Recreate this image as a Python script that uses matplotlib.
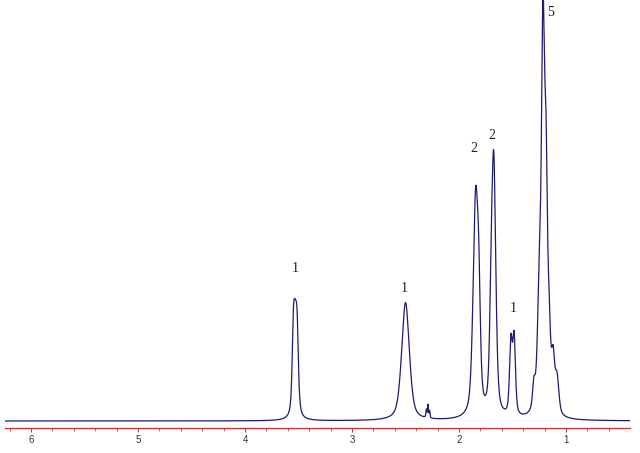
import numpy as np
import matplotlib.pyplot as plt

# --- DATA ---
# peak list: position (ppm), height (px above baseline), width (ppm, FWHM)
peak_ppm = [3.548, 3.530, 3.512,
            2.500,
            2.305, 2.290, 2.275,
            1.845, 1.815,
            1.700, 1.675,
            1.515, 1.485,
            1.300, 1.250, 1.215, 1.187, 1.160, 1.121, 1.084]
peak_height = [50, 95, 45,
               118,
               8, 13, 7,
               215, 80,
               70, 245,
               72, 76,
               25, 110, 370, 200, 75, 50, 35]
peak_width = [0.025, 0.045, 0.025,
              0.085,
              0.010, 0.010, 0.010,
              0.055, 0.035,
              0.035, 0.045,
              0.030, 0.030,
              0.030, 0.040, 0.035, 0.030, 0.035, 0.035, 0.040]

# integration labels
label_ppm = [3.53, 2.514, 1.86, 1.69, 1.495, 1.14]
label_height = [152, 133, 273, 286, 112, 409]
label_text = ['1', '1', '2', '2', '1', '5']

ppm_tick_labels = ['1', '2', '3', '4', '5', '6']


def pvoigt(x, x0, h, w, eta=0.5):
    lor = 1.0 / (1.0 + ((x - x0) / (w / 2)) ** 2)
    gau = np.exp(-4 * np.log(2) * ((x - x0) / w) ** 2)
    return h * (eta * lor + (1 - eta) * gau)


ppm = np.linspace(6.243, 0.402, 6000)
intensity = np.zeros_like(ppm)
for p, h, w in zip(peak_ppm, peak_height, peak_width):
    intensity += pvoigt(ppm, p, h, w)

fig = plt.figure(figsize=(6.4, 4.53), dpi=100)
ax = fig.add_axes([5 / 640, 25 / 453, 625 / 640, 428 / 453])

ax.plot(ppm, intensity, color='#1c1c72', lw=0.9)

for lp, lh, lt in zip(label_ppm, label_height, label_text):
    ax.text(lp, lh, lt, ha='center', va='center', fontsize=10,
            family='Liberation Serif', color='#222222')

ax.set_xlim(6.243, 0.402)
ax.set_ylim(-7, 421)

for s in ['top', 'left', 'right']:
    ax.spines[s].set_visible(False)
ax.spines['bottom'].set_color('#d03030')
ax.spines['bottom'].set_linewidth(0.9)

ax.set_yticks([])
ax.set_xticks([float(t) for t in ppm_tick_labels])
ax.set_xticklabels(ppm_tick_labels, family='Liberation Sans', fontsize=7, color='#333333')
ax.set_xticks(np.arange(0.6, 6.25, 0.2), minor=True)
ax.tick_params(axis='x', which='major', direction='out', length=3, color='#d03030', pad=2)
ax.tick_params(axis='x', which='minor', direction='out', length=2, color='#d03030')

fig.savefig('out.png', dpi=100)
